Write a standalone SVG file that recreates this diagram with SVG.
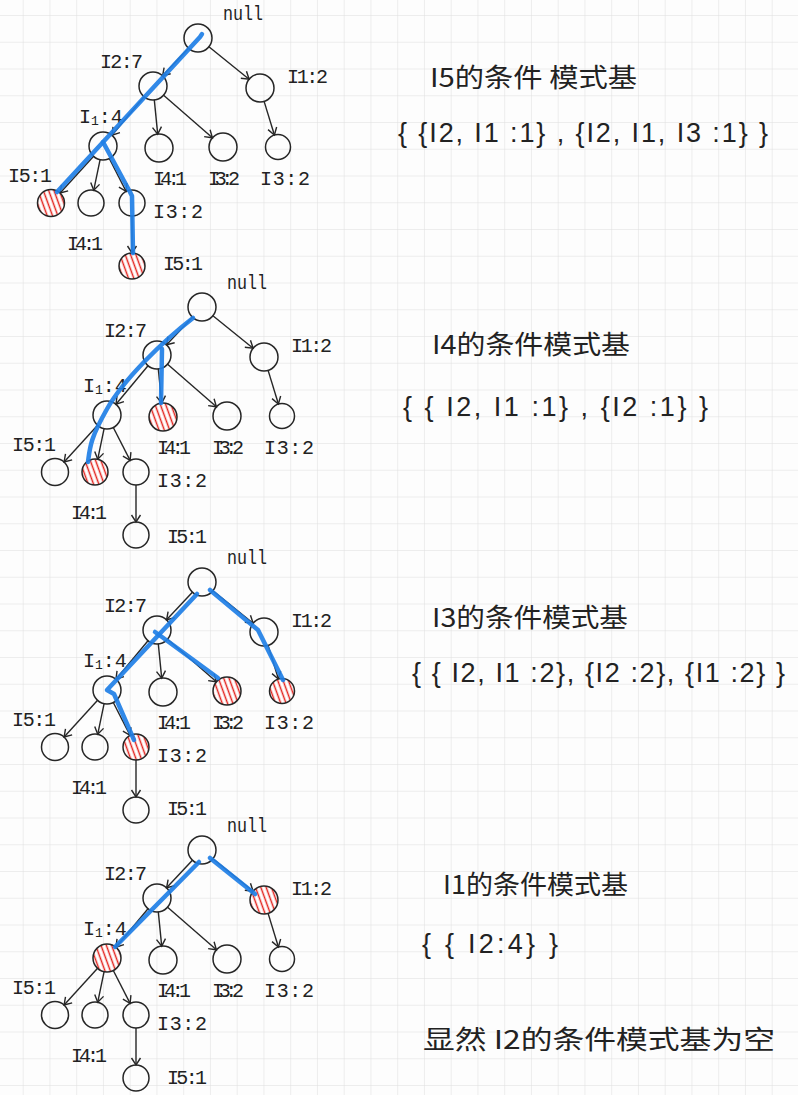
<svg xmlns="http://www.w3.org/2000/svg" xmlns:xlink="http://www.w3.org/1999/xlink" width="798" height="1095" viewBox="0 0 798 1095">
<style>
.nd{fill:none;stroke:#262626;stroke-width:1.5}
.hx{fill:url(#hatch);stroke:#262626;stroke-width:1.5}
.ed{fill:none;stroke:#262626;stroke-width:1.4;marker-end:url(#arr)}
.bl{fill:none;stroke:#1f7fe6;stroke-width:4.5;stroke-linecap:round;stroke-linejoin:round;opacity:0.92}
.lb{font-family:"Liberation Mono","DejaVu Sans Mono",monospace;font-size:20px;fill:#222}
.cn{font-family:"Noto Sans CJK SC","Noto Sans",sans-serif;font-size:26px;fill:#222}
.br{font-family:"Liberation Sans","Noto Sans CJK SC",sans-serif;font-size:27px;fill:#222}
</style>
<defs>
<pattern id="grid" x="22.7" y="15" width="26.75" height="26.75" patternUnits="userSpaceOnUse">
<path d="M0,0 H26.75 M0,0 V26.75" fill="none" stroke="#dedede" stroke-width="1"/>
</pattern>
<pattern id="hatch" width="5" height="5" patternUnits="userSpaceOnUse" patternTransform="rotate(-20)">
<rect width="5" height="5" fill="#ffffff"/>
<line x1="2.5" y1="0" x2="2.5" y2="5" stroke="#e3221c" stroke-width="1.5"/>
</pattern>
<marker id="arr" viewBox="-10 -6 12 12" refX="0" refY="0" markerWidth="12" markerHeight="12" markerUnits="userSpaceOnUse" orient="auto">
<path d="M-7,-4.5 L0,0 L-7,4.5" fill="none" stroke="#262626" stroke-width="1.4"/>
</marker>
<g id="edges">
<path class="ed" d="M-9.6,10.2 L-35.4,37.8"/>
<path class="ed" d="M10.9,8.8 L51.1,41.2"/>
<path class="ed" d="M-54,58.8 L-86,97.2"/>
<path class="ed" d="M-43.7,61.9 L-40.3,96.1"/>
<path class="ed" d="M-34.4,57.2 L14.4,99.8"/>
<path class="ed" d="M66.1,63.4 L76.4,97"/>
<path class="ed" d="M-104.4,118.3 L-137.9,155"/>
<path class="ed" d="M-97.9,121.7 L-104.3,152.3"/>
<path class="ed" d="M-88.7,120.5 L-71.9,153.4"/>
<path class="ed" d="M-66,178 L-66,215"/>
</g>
</defs>
<rect width="798" height="1095" fill="#fdfdfd"/>
<rect width="798" height="1095" fill="url(#grid)"/>

<g id="connectors">
<use xlink:href="#edges" href="#edges" transform="translate(198,38)"/>
<use xlink:href="#edges" href="#edges" transform="translate(202,307)"/>
<use xlink:href="#edges" href="#edges" transform="translate(202,582)"/>
<use xlink:href="#edges" href="#edges" transform="translate(202,850)"/>
</g>

<!-- Tree 1 -->
<g id="tree1" transform="translate(198,38)">
<g id="t1-null"><circle class="nd" cx="0" cy="0" r="14"/><text class="lb" x="25" y="-18" textLength="40" lengthAdjust="spacingAndGlyphs">null</text></g>
<g id="t1-I2"><circle class="nd" cx="-45" cy="48" r="14"/><text class="lb" x="-98" y="30" textLength="43" lengthAdjust="spacing">I2:7</text></g>
<g id="t1-I1b"><circle class="nd" cx="62" cy="50" r="14"/><text class="lb" x="89" y="45" textLength="41" lengthAdjust="spacing">I1:2</text></g>
<g id="t1-I1"><circle class="nd" cx="-95" cy="108" r="14"/><text class="lb" x="-119" y="85">I<tspan font-size="13" dy="2">1</tspan><tspan dy="-2">:4</tspan></text></g>
<g id="t1-I4"><circle class="nd" cx="-39" cy="110" r="14"/><text class="lb" x="-45" y="147" textLength="34" lengthAdjust="spacing">I4:1</text></g>
<g id="t1-I3"><circle class="nd" cx="25" cy="109" r="14"/><text class="lb" x="10" y="147" textLength="32" lengthAdjust="spacing">I3:2</text></g>
<g id="t1-I3r"><circle class="nd" cx="80" cy="109" r="12.5"/><text class="lb" x="62" y="147" textLength="50" lengthAdjust="spacing">I3:2</text></g>
<g id="t1-I5"><circle class="hx" cx="-147" cy="165" r="13.5"/><text class="lb" x="-190" y="144" textLength="44" lengthAdjust="spacing">I5:1</text></g>
<g id="t1-I4b"><circle class="nd" cx="-107" cy="165" r="13"/><text class="lb" x="-131" y="212" textLength="36" lengthAdjust="spacing">I4:1</text></g>
<g id="t1-I3b"><circle class="nd" cx="-66" cy="165" r="13"/><text class="lb" x="-45" y="180" textLength="50" lengthAdjust="spacing">I3:2</text></g>
<g id="t1-I5b"><circle class="hx" cx="-66" cy="228" r="13"/><text class="lb" x="-35" y="232" textLength="40" lengthAdjust="spacing">I5:1</text></g>
</g>

<!-- Tree 2 -->
<g id="tree2" transform="translate(202,307)">
<g id="t2-null"><circle class="nd" cx="0" cy="0" r="14"/><text class="lb" x="25" y="-18" textLength="40" lengthAdjust="spacingAndGlyphs">null</text></g>
<g id="t2-I2"><circle class="nd" cx="-45" cy="48" r="14"/><text class="lb" x="-98" y="30" textLength="43" lengthAdjust="spacing">I2:7</text></g>
<g id="t2-I1b"><circle class="nd" cx="62" cy="50" r="14"/><text class="lb" x="89" y="45" textLength="41" lengthAdjust="spacing">I1:2</text></g>
<g id="t2-I1"><circle class="nd" cx="-95" cy="108" r="14"/><text class="lb" x="-119" y="85">I<tspan font-size="13" dy="2">1</tspan><tspan dy="-2">:4</tspan></text></g>
<g id="t2-I4"><circle class="hx" cx="-39" cy="110" r="14"/><text class="lb" x="-45" y="147" textLength="34" lengthAdjust="spacing">I4:1</text></g>
<g id="t2-I3"><circle class="nd" cx="25" cy="109" r="14"/><text class="lb" x="10" y="147" textLength="32" lengthAdjust="spacing">I3:2</text></g>
<g id="t2-I3r"><circle class="nd" cx="80" cy="109" r="12.5"/><text class="lb" x="62" y="147" textLength="50" lengthAdjust="spacing">I3:2</text></g>
<g id="t2-I5"><circle class="nd" cx="-147" cy="165" r="13.5"/><text class="lb" x="-190" y="144" textLength="44" lengthAdjust="spacing">I5:1</text></g>
<g id="t2-I4b"><circle class="hx" cx="-107" cy="165" r="13"/><text class="lb" x="-131" y="212" textLength="36" lengthAdjust="spacing">I4:1</text></g>
<g id="t2-I3b"><circle class="nd" cx="-66" cy="165" r="13"/><text class="lb" x="-45" y="180" textLength="50" lengthAdjust="spacing">I3:2</text></g>
<g id="t2-I5b"><circle class="nd" cx="-66" cy="228" r="13"/><text class="lb" x="-35" y="236" textLength="40" lengthAdjust="spacing">I5:1</text></g>
</g>

<!-- Tree 3 -->
<g id="tree3" transform="translate(202,582)">
<g id="t3-null"><circle class="nd" cx="0" cy="0" r="14"/><text class="lb" x="25" y="-18" textLength="40" lengthAdjust="spacingAndGlyphs">null</text></g>
<g id="t3-I2"><circle class="nd" cx="-45" cy="48" r="14"/><text class="lb" x="-98" y="30" textLength="43" lengthAdjust="spacing">I2:7</text></g>
<g id="t3-I1b"><circle class="nd" cx="62" cy="50" r="14"/><text class="lb" x="89" y="45" textLength="41" lengthAdjust="spacing">I1:2</text></g>
<g id="t3-I1"><circle class="nd" cx="-95" cy="108" r="14"/><text class="lb" x="-119" y="85">I<tspan font-size="13" dy="2">1</tspan><tspan dy="-2">:4</tspan></text></g>
<g id="t3-I4"><circle class="nd" cx="-39" cy="110" r="14"/><text class="lb" x="-45" y="147" textLength="34" lengthAdjust="spacing">I4:1</text></g>
<g id="t3-I3"><circle class="hx" cx="25" cy="109" r="14"/><text class="lb" x="10" y="147" textLength="32" lengthAdjust="spacing">I3:2</text></g>
<g id="t3-I3r"><circle class="hx" cx="80" cy="109" r="12.5"/><text class="lb" x="62" y="147" textLength="50" lengthAdjust="spacing">I3:2</text></g>
<g id="t3-I5"><circle class="nd" cx="-147" cy="165" r="13.5"/><text class="lb" x="-190" y="144" textLength="44" lengthAdjust="spacing">I5:1</text></g>
<g id="t3-I4b"><circle class="nd" cx="-107" cy="165" r="13"/><text class="lb" x="-131" y="212" textLength="36" lengthAdjust="spacing">I4:1</text></g>
<g id="t3-I3b"><circle class="hx" cx="-66" cy="165" r="13"/><text class="lb" x="-45" y="180" textLength="50" lengthAdjust="spacing">I3:2</text></g>
<g id="t3-I5b"><circle class="nd" cx="-66" cy="228" r="13"/><text class="lb" x="-35" y="233" textLength="40" lengthAdjust="spacing">I5:1</text></g>
</g>

<!-- Tree 4 -->
<g id="tree4" transform="translate(202,850)">
<g id="t4-null"><circle class="nd" cx="0" cy="0" r="14"/><text class="lb" x="25" y="-18" textLength="40" lengthAdjust="spacingAndGlyphs">null</text></g>
<g id="t4-I2"><circle class="nd" cx="-45" cy="48" r="14"/><text class="lb" x="-98" y="30" textLength="43" lengthAdjust="spacing">I2:7</text></g>
<g id="t4-I1b"><circle class="hx" cx="62" cy="50" r="14"/><text class="lb" x="89" y="45" textLength="41" lengthAdjust="spacing">I1:2</text></g>
<g id="t4-I1"><circle class="hx" cx="-95" cy="108" r="14"/><text class="lb" x="-119" y="85">I<tspan font-size="13" dy="2">1</tspan><tspan dy="-2">:4</tspan></text></g>
<g id="t4-I4"><circle class="nd" cx="-39" cy="110" r="14"/><text class="lb" x="-45" y="147" textLength="34" lengthAdjust="spacing">I4:1</text></g>
<g id="t4-I3"><circle class="nd" cx="25" cy="109" r="14"/><text class="lb" x="10" y="147" textLength="32" lengthAdjust="spacing">I3:2</text></g>
<g id="t4-I3r"><circle class="nd" cx="80" cy="109" r="12.5"/><text class="lb" x="62" y="147" textLength="50" lengthAdjust="spacing">I3:2</text></g>
<g id="t4-I5"><circle class="nd" cx="-147" cy="165" r="13.5"/><text class="lb" x="-190" y="144" textLength="44" lengthAdjust="spacing">I5:1</text></g>
<g id="t4-I4b"><circle class="nd" cx="-107" cy="165" r="13"/><text class="lb" x="-131" y="212" textLength="36" lengthAdjust="spacing">I4:1</text></g>
<g id="t4-I3b"><circle class="nd" cx="-66" cy="165" r="13"/><text class="lb" x="-45" y="180" textLength="50" lengthAdjust="spacing">I3:2</text></g>
<g id="t4-I5b"><circle class="nd" cx="-66" cy="228" r="13"/><text class="lb" x="-35" y="234" textLength="40" lengthAdjust="spacing">I5:1</text></g>
</g>

<!-- Blue highlighted paths -->
<g id="highlights">
<g transform="translate(198,38)">
<path class="bl" d="M4,-4 L2,-1 L-141,154"/>
<path class="bl" d="M-95,104 L-68,154 L-66,158 L-65,215"/>
</g>
<g transform="translate(202,307)">
<path class="bl" d="M-9,11 C-40,35 -78,72 -95,102 S-112,140 -114,155"/>
<path class="bl" d="M-40,42 L-41,96"/>
</g>
<g transform="translate(202,582)">
<path class="bl" d="M-5,12 L-95,108 L-88,112 L-68,158"/>
<path class="bl" d="M-47,50 L-40,55 L16,96"/>
<path class="bl" d="M8,8 L56,48 L81,98"/>
</g>
<g transform="translate(202,850)">
<path class="bl" d="M-3,12 L-87,97"/>
<path class="bl" d="M8,8 L53,44"/>
</g>
</g>

<!-- Notes on the right -->
<g id="notes">
<text class="cn" x="430" y="87" textLength="207" lengthAdjust="spacingAndGlyphs">I5的条件 模式基</text>
<text class="br" x="398" y="142" textLength="370" lengthAdjust="spacing">{ {I2, I1 :1} , {I2, I1, I3 :1} }</text>
<text class="cn" x="432" y="354" textLength="198" lengthAdjust="spacingAndGlyphs">I4的条件模式基</text>
<text class="br" x="403" y="416" textLength="305" lengthAdjust="spacing">{ { I2, I1 :1} , {I2 :1} }</text>
<text class="cn" x="432" y="627" textLength="196" lengthAdjust="spacingAndGlyphs">I3的条件模式基</text>
<text class="br" x="412" y="682" textLength="373" lengthAdjust="spacing">{ { I2, I1 :2}, {I2 :2}, {I1 :2} }</text>
<text class="cn" x="443" y="894" textLength="185" lengthAdjust="spacingAndGlyphs">I1的条件模式基</text>
<text class="br" x="422" y="953" textLength="136" lengthAdjust="spacing">{ { I2:4} }</text>
<text class="cn" x="423" y="1049" textLength="352" lengthAdjust="spacingAndGlyphs">显然 I2的条件模式基为空</text>
</g>
</svg>
